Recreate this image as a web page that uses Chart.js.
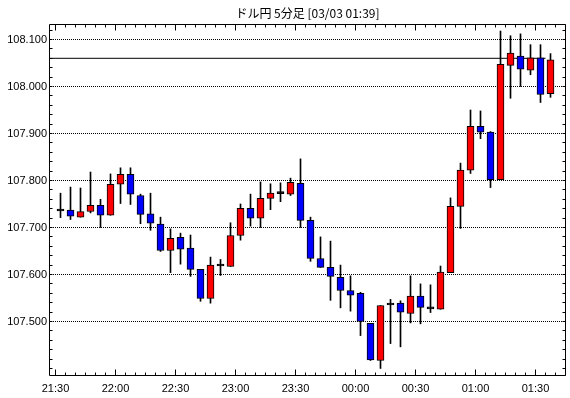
<!DOCTYPE html>
<html>
<head>
<meta charset="utf-8">
<script src="https://cdn.jsdelivr.net/npm/chart.js@4"></script>
<style>
  body { margin: 0; background: #fff; }
</style>
</head>
<body>
<canvas id="candleChart" width="570" height="398"></canvas>
<script>
// 5 minute candles, 21:30 .. 01:35
const opens = [107.735, 107.737, 107.722, 107.734, 107.747, 107.726, 107.792, 107.813, 107.768, 107.729,
  107.707, 107.651, 107.679, 107.656, 107.611, 107.549, 107.618, 107.617, 107.683, 107.741,
  107.720, 107.762, 107.772, 107.771, 107.794, 107.715, 107.634, 107.615, 107.594, 107.566,
  107.560, 107.496, 107.417, 107.535, 107.539, 107.517, 107.554, 107.527, 107.526, 107.604,
  107.745, 107.822, 107.915, 107.903, 107.802, 108.045, 108.065, 108.035, 108.061, 107.985];
const highs = [107.773, 107.786, 107.784, 107.818, 107.760, 107.814, 107.827, 107.827, 107.771, 107.773,
  107.722, 107.697, 107.688, 107.684, 107.611, 107.637, 107.632, 107.710, 107.750, 107.771,
  107.797, 107.793, 107.795, 107.805, 107.846, 107.722, 107.680, 107.671, 107.620, 107.597,
  107.562, 107.496, 107.534, 107.547, 107.544, 107.597, 107.580, 107.578, 107.618, 107.763,
  107.837, 107.950, 107.948, 107.904, 108.118, 108.108, 108.112, 108.089, 108.089, 108.070];
const lows = [107.721, 107.717, 107.722, 107.731, 107.700, 107.726, 107.751, 107.749, 107.708, 107.694,
  107.649, 107.604, 107.622, 107.596, 107.543, 107.539, 107.598, 107.617, 107.673, 107.703,
  107.700, 107.738, 107.755, 107.768, 107.700, 107.628, 107.615, 107.545, 107.529, 107.522,
  107.470, 107.417, 107.400, 107.453, 107.446, 107.497, 107.495, 107.519, 107.526, 107.604,
  107.698, 107.815, 107.889, 107.785, 107.802, 107.975, 108.000, 108.025, 107.966, 107.977];
const closes = [107.735, 107.724, 107.734, 107.747, 107.726, 107.792, 107.813, 107.771, 107.728, 107.709,
  107.651, 107.677, 107.654, 107.611, 107.549, 107.620, 107.618, 107.683, 107.741, 107.720,
  107.762, 107.773, 107.772, 107.796, 107.715, 107.634, 107.615, 107.596, 107.566, 107.556,
  107.500, 107.418, 107.534, 107.535, 107.520, 107.554, 107.530, 107.527, 107.605, 107.745,
  107.822, 107.915, 107.903, 107.802, 108.047, 108.071, 108.037, 108.061, 107.983, 108.057];
const currentPrice = 108.060;

const timeLabels = ['21:30', '22:00', '22:30', '23:00', '23:30', '00:00', '00:30', '01:00', '01:30'];
const priceTicks = [107.5, 107.6, 107.7, 107.8, 107.9, 108.0, 108.1];

const yMin = 107.384, yMax = 108.133;
const xMin = -0.65, xMax = 51.05;

const wickData = highs.map((h, i) => ({ x: i + 0.5, y: [lows[i], h] }));
const bodyData = opens.map((o, i) => ({ x: i + 0.5, y: [o, closes[i]] }));
const bodyColors = opens.map((o, i) => closes[i] > o ? '#ff0000' : (closes[i] < o ? '#0000ff' : '#000000'));

// frame with inward tick marks, like the original chart
const framePlugin = {
  id: 'frame',
  afterDraw(chart) {
    const { ctx, chartArea: a } = chart;
    const xs = chart.scales.x, ys = chart.scales.y;
    const L = Math.floor(a.left) + 0.5, R = Math.round(a.right) - 0.5;
    const T = Math.floor(a.top) + 0.5, B = Math.round(a.bottom) - 0.5;
    ctx.save();
    ctx.strokeStyle = '#000';
    ctx.lineWidth = 1;
    ctx.beginPath();
    ctx.rect(L, T, R - L, B - T);
    for (let v = 0; v <= 51; v++) {
      const px = Math.round(xs.getPixelForValue(v) - 0.5) + 0.5;
      const len = v % 6 === 0 ? 6 : 3;
      ctx.moveTo(px, B); ctx.lineTo(px, B - len);
      ctx.moveTo(px, T); ctx.lineTo(px, T + len);
    }
    for (let p = 107.40; p <= 108.125; p += 0.02) {
      const py = Math.round(ys.getPixelForValue(p) - 0.5) + 0.5;
      ctx.moveTo(L, py); ctx.lineTo(L + 3, py);
      ctx.moveTo(R, py); ctx.lineTo(R - 3, py);
    }
    ctx.stroke();
    ctx.restore();
  }
};

new Chart(document.getElementById('candleChart'), {
  type: 'bar',
  data: {
    datasets: [
      {
        label: 'body',
        data: bodyData,
        backgroundColor: bodyColors,
        borderColor: '#000',
        borderWidth: 1,
        borderSkipped: false,
        barThickness: 7,
        minBarLength: 2,
        grouped: false,
        order: 0
      },
      {
        label: 'wick',
        data: wickData,
        backgroundColor: '#000',
        borderWidth: 0,
        barThickness: 1,
        grouped: false,
        order: 1
      },
      {
        type: 'line',
        label: 'price',
        data: [{ x: xMin, y: currentPrice }, { x: 49.0, y: currentPrice }],
        borderColor: '#000',
        borderWidth: 1,
        pointRadius: 0,
        order: 2
      }
    ]
  },
  options: {
    responsive: false,
    animation: false,
    layout: { padding: { left: 0, right: 4, top: 0, bottom: 0 } },
    plugins: {
      legend: { display: false },
      tooltip: { enabled: false },
      title: {
        display: true,
        fullSize: false,
        text: 'ドル円 5分足 [03/03 01:39]',
        color: '#000',
        font: { family: '"Noto Sans CJK JP", sans-serif', size: 12, weight: 'normal', lineHeight: '14px' },
        padding: { top: 6, bottom: 4 }
      }
    },
    scales: {
      x: {
        type: 'linear',
        min: xMin,
        max: xMax,
        offset: false,
        grid: { display: false, drawTicks: false },
        border: { display: false },
        afterBuildTicks: s => { s.ticks = timeLabels.map((t, k) => ({ value: k * 6 })); },
        afterFit: s => { s.height = 22; },
        ticks: {
          autoSkip: false,
          maxRotation: 0,
          padding: 6,
          color: '#000',
          font: { family: '"Liberation Sans", Arial, sans-serif', size: 11 },
          callback: v => timeLabels[Math.round(v / 6)]
        }
      },
      y: {
        min: yMin,
        max: yMax,
        grid: { color: '#000', lineWidth: 1, drawTicks: false },
        border: { display: false, dash: [1, 1] },
        afterBuildTicks: s => { s.ticks = priceTicks.map(v => ({ value: v })); },
        afterFit: s => { s.width = 49; },
        ticks: {
          padding: 2,
          color: '#000',
          font: { family: '"Liberation Sans", Arial, sans-serif', size: 11 },
          callback: v => v.toFixed(3)
        }
      }
    }
  },
  plugins: [framePlugin]
});
</script>
</body>
</html>
